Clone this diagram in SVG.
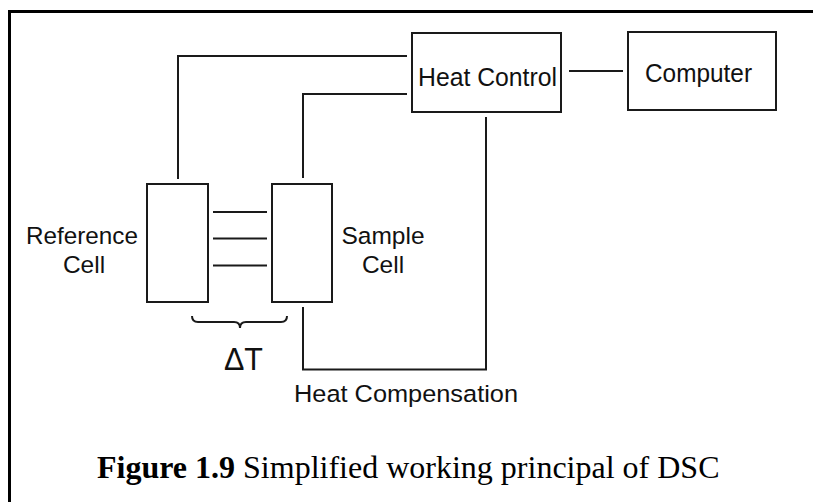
<svg xmlns="http://www.w3.org/2000/svg" width="813" height="502" viewBox="0 0 813 502">
<style>
.box{fill:#fff;stroke:#1a1a1a;stroke-width:2}
.ln{fill:none;stroke:#1a1a1a;stroke-width:2}
.t{font-family:"Liberation Sans",Arial,sans-serif;font-size:24.5px;fill:#111}
.cap{font-family:"Liberation Serif","Times New Roman",serif;font-size:32px;fill:#000}
</style>
<rect width="813" height="502" fill="#fff"/>
<path d="M9.5 502 V11.5 H813" fill="none" stroke="#000" stroke-width="3"/>
<g id="connectors">
<path class="ln" d="M178 179 V56 H407"/>
<path class="ln" d="M303 178 V94 H407"/>
<path class="ln" d="M569 71 H623"/>
<path class="ln" d="M303 307 V369.5 H486 V117"/>
<path class="ln" d="M213 212 H267 M213 238.5 H267 M213 265.5 H267"/>
<path class="ln" d="M192 316 Q192 322 198 322 H234 Q240 322 240 328 Q240 322 246 322 H281 Q287 322 287 316"/>
</g>
<g id="heat-control">
<rect class="box" x="412" y="33" width="149" height="79"/>
<text class="t" x="418" y="86" style="font-size:25px" textLength="139" lengthAdjust="spacingAndGlyphs">Heat Control</text>
</g>
<g id="computer">
<rect class="box" x="628" y="32" width="148" height="78"/>
<text class="t" x="645" y="82" style="font-size:25px" textLength="107" lengthAdjust="spacingAndGlyphs">Computer</text>
</g>
<g id="reference-cell">
<rect class="box" x="147" y="184" width="61" height="118"/>
<text class="t" x="26" y="244" textLength="112" lengthAdjust="spacingAndGlyphs">Reference</text>
<text class="t" x="84" y="273" text-anchor="middle">Cell</text>
</g>
<g id="sample-cell">
<rect class="box" x="272" y="184" width="60" height="118"/>
<text class="t" x="383" y="244" text-anchor="middle">Sample</text>
<text class="t" x="383" y="273" text-anchor="middle">Cell</text>
</g>
<g id="delta-t">
<text class="t" x="224" y="370" style="font-size:32px" textLength="39" lengthAdjust="spacingAndGlyphs">ΔT</text>
</g>
<g id="heat-compensation">
<text class="t" x="294" y="402" textLength="224" lengthAdjust="spacingAndGlyphs">Heat Compensation</text>
</g>
<g id="caption">
<text class="cap" x="97" y="478"><tspan font-weight="bold">Figure 1.9</tspan> Simplified working principal of DSC</text>
</g>
</svg>
